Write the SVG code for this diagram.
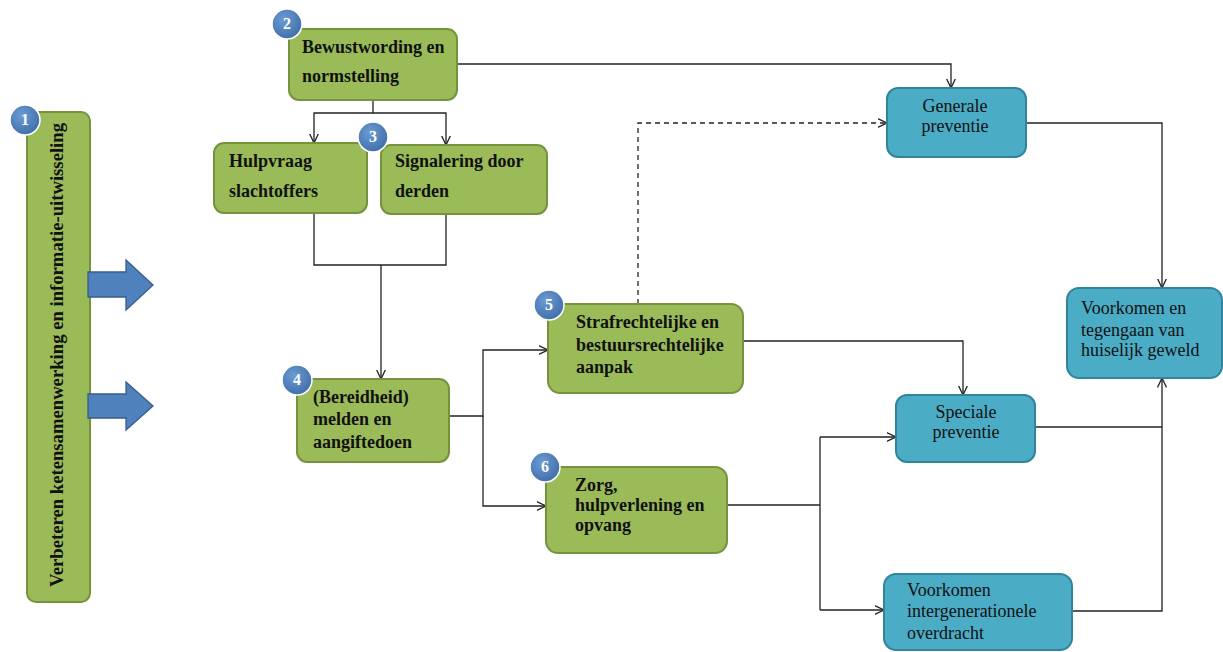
<svg xmlns="http://www.w3.org/2000/svg" width="1223" height="652" viewBox="0 0 1223 652">
<defs>
<marker id="arr" viewBox="0 0 10 10" refX="9.5" refY="5" markerWidth="10" markerHeight="10" markerUnits="userSpaceOnUse" orient="auto">
<path d="M0,0.5 L9.5,5 L0,9.5" fill="none" stroke="#222" stroke-width="1.3"/>
</marker>
<radialGradient id="badge" cx="0.4" cy="0.35" r="0.7">
<stop offset="0" stop-color="#6d9bd3"/>
<stop offset="1" stop-color="#3d6ca8"/>
</radialGradient>
</defs>
<style>
.g{fill:#9bbb59;stroke:#76923c;stroke-width:2}
.b{fill:#4bacc6;stroke:#31849b;stroke-width:2}
.gt{font-family:"Liberation Serif",serif;font-weight:bold;font-size:18px;fill:#111}
.bt{font-family:"Liberation Serif",serif;font-size:18px;fill:#111}
.c{fill:none;stroke:#222;stroke-width:1.3}
.d{fill:none;stroke:#222;stroke-width:1.3;stroke-dasharray:5,4}
.bd{fill:url(#badge);stroke:#fff;stroke-width:1.5}
.bn{font-family:"Liberation Serif",serif;font-weight:bold;font-size:16px;fill:#fff;text-anchor:middle}
.ba{fill:#4f81bd;stroke:#385d8a;stroke-width:1.3}
</style>
<rect width="1223" height="652" fill="#fff"/>

<g id="connectors">
<path class="c" d="M457,64 H951 V88" marker-end="url(#arr)"/>
<path class="c" d="M373,100 V113 H314 V143" marker-end="url(#arr)"/>
<path class="c" d="M373,113 H446 V145" marker-end="url(#arr)"/>
<path class="c" d="M314,213 V265 H446 V214"/>
<path class="c" d="M381,265 V379" marker-end="url(#arr)"/>
<path class="c" d="M449,416 H483 V350 H548" marker-end="url(#arr)"/>
<path class="c" d="M483,416 V506 H546" marker-end="url(#arr)"/>
<path class="d" d="M638,304 V123 H887" marker-end="url(#arr)"/>
<path class="c" d="M743,341 H963 V395" marker-end="url(#arr)"/>
<path class="c" d="M727,505 H820"/>
<path class="c" d="M820,437 V610"/>
<path class="c" d="M820,437 H896" marker-end="url(#arr)"/>
<path class="c" d="M820,610 H884" marker-end="url(#arr)"/>
<path class="c" d="M1026,123 H1162 V288" marker-end="url(#arr)"/>
<path class="c" d="M1035,427 H1162"/>
<path class="c" d="M1072,611 H1162 V378" marker-end="url(#arr)"/>
</g>

<g id="n1">
<rect class="g" x="27" y="112" width="63" height="490" rx="9"/>
<text class="gt" transform="translate(63,587) rotate(-90)" textLength="464" lengthAdjust="spacingAndGlyphs">Verbeteren ketensamenwerking en informatie-uitwisseling</text>
<circle class="bd" cx="25" cy="120" r="15"/>
<text class="bn" x="25" y="125">1</text>
</g>

<g id="arrows">
<path class="ba" d="M88,272 H126 V260 L153,285 L126,310 V297 H88 Z"/>
<path class="ba" d="M88,394 H126 V382 L153,406 L126,430 V418 H88 Z"/>
</g>

<g id="n2">
<rect class="g" x="289" y="29" width="168" height="71" rx="10"/>
<text class="gt" x="302" y="53">Bewustwording en</text>
<text class="gt" x="302" y="82">normstelling</text>
<circle class="bd" cx="287" cy="24" r="15"/>
<text class="bn" x="287" y="29">2</text>
</g>

<g id="n3a">
<rect class="g" x="214" y="143" width="153" height="70" rx="10"/>
<text class="gt" x="229" y="167">Hulpvraag</text>
<text class="gt" x="229" y="197">slachtoffers</text>
</g>

<g id="n3b">
<rect class="g" x="381" y="145" width="166" height="69" rx="10"/>
<text class="gt" x="395" y="167">Signalering door</text>
<text class="gt" x="395" y="197">derden</text>
<circle class="bd" cx="373" cy="137" r="15"/>
<text class="bn" x="373" y="142">3</text>
</g>

<g id="n4">
<rect class="g" x="297" y="379" width="152" height="83" rx="10"/>
<text class="gt" x="313" y="403">(Bereidheid)</text>
<text class="gt" x="313" y="425">melden en</text>
<text class="gt" x="313" y="448">aangiftedoen</text>
<circle class="bd" cx="297" cy="380" r="15"/>
<text class="bn" x="297" y="385">4</text>
</g>

<g id="n5">
<rect class="g" x="548" y="304" width="195" height="89" rx="12"/>
<text class="gt" x="576" y="328">Strafrechtelijke en</text>
<text class="gt" x="576" y="351">bestuursrechtelijke</text>
<text class="gt" x="576" y="373">aanpak</text>
<circle class="bd" cx="549" cy="305" r="15"/>
<text class="bn" x="549" y="310">5</text>
</g>

<g id="n6">
<rect class="g" x="546" y="467" width="181" height="86" rx="12"/>
<text class="gt" x="575" y="491">Zorg,</text>
<text class="gt" x="575" y="511">hulpverlening en</text>
<text class="gt" x="575" y="531">opvang</text>
<circle class="bd" cx="545" cy="467" r="15"/>
<text class="bn" x="545" y="472">6</text>
</g>

<g id="generale">
<rect class="b" x="887" y="88" width="139" height="69" rx="11"/>
<text class="bt" x="955" y="112" text-anchor="middle">Generale</text>
<text class="bt" x="955" y="132" text-anchor="middle">preventie</text>
</g>

<g id="speciale">
<rect class="b" x="896" y="395" width="139" height="67" rx="11"/>
<text class="bt" x="966" y="418" text-anchor="middle">Speciale</text>
<text class="bt" x="966" y="438" text-anchor="middle">preventie</text>
</g>

<g id="doel">
<rect class="b" x="1067" y="288" width="155" height="90" rx="12"/>
<text class="bt" x="1081" y="314">Voorkomen en</text>
<text class="bt" x="1081" y="336">tegengaan van</text>
<text class="bt" x="1081" y="356">huiselijk geweld</text>
</g>

<g id="intergen">
<rect class="b" x="884" y="574" width="188" height="76" rx="12"/>
<text class="bt" x="907" y="596">Voorkomen</text>
<text class="bt" x="907" y="617">intergenerationele</text>
<text class="bt" x="907" y="639">overdracht</text>
</g>
</svg>
